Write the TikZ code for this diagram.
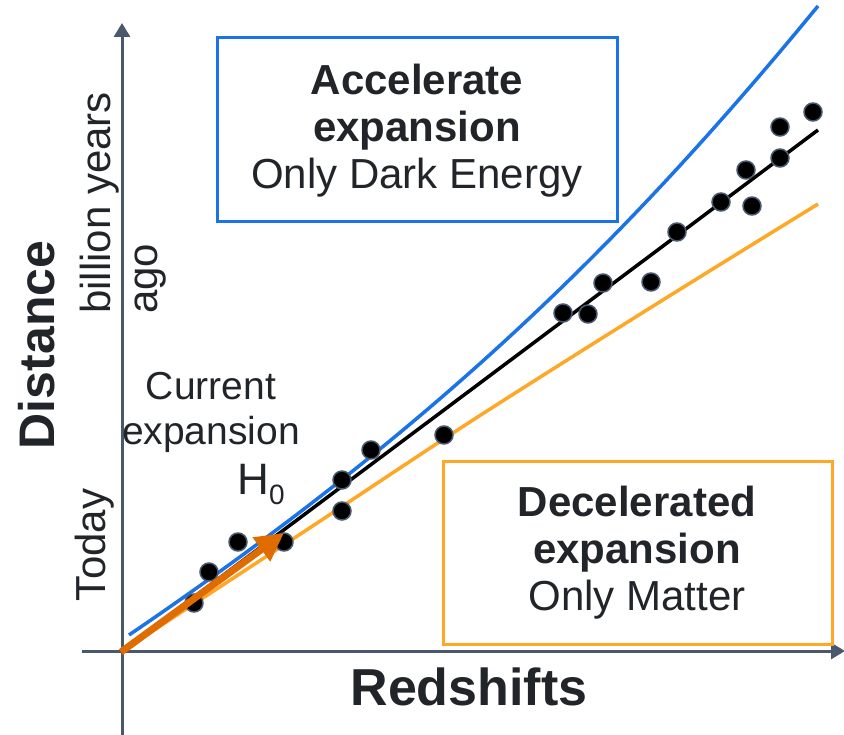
\documentclass[tikz,border=0pt]{standalone}
\usepackage{fontspec}
\setmainfont{Liberation Sans}
\usetikzlibrary{arrows.meta}
\definecolor{axiscol}{RGB}{74,88,110}
\definecolor{bluecol}{RGB}{26,115,232}
\definecolor{lorange}{RGB}{255,167,38}
\definecolor{dorange}{RGB}{224,108,0}
\definecolor{txtcol}{RGB}{33,37,41}
\tikzset{
  axisline/.style={draw=axiscol,line width=3pt,-{Triangle[length=14pt,width=16pt]}},
  datadot/.style={circle,fill=black,draw=axiscol,line width=1.5pt,minimum size=18pt,inner sep=0pt},
  infobox/.style={line width=3pt,fill=white},
  bigtxt/.style={text=txtcol,font=\fontsize{42}{47}\selectfont,align=center,inner sep=0pt},
}
\begin{document}
\begin{tikzpicture}[x=1pt,y=-1pt]
\useasboundingbox (0,0) rectangle (844,735);
% axes
\coordinate (ybot) at (122,735);
\coordinate (ytop) at (122,23);
\coordinate (xl) at (82,651);
\coordinate (xr) at (845,651);
\draw[axisline] (ybot) -- (ytop);
\draw[axisline] (xl) -- (xr);
% boxes
\draw[infobox,draw=bluecol] (217,38) rectangle (617,222);
\draw[infobox,draw=lorange] (443,461) rectangle (832,644);
\node[bigtxt] (acc) at (417,131) {\textbf{Accelerate}\\\textbf{expansion}\\Only Dark Energy};
\node[bigtxt] (dec) at (637,553) {\textbf{Decelerated}\\\textbf{expansion}\\Only Matter};
% curves
\coordinate (bls) at (129,635);
\coordinate (ble) at (818,6);
\draw[bluecol,line width=3.5pt] (bls) .. controls (432,429) and (620,247) .. (ble);
\draw[lorange,line width=3.5pt] plot[smooth,tension=0.5] coordinates {(122,651) (302,533) (473,420) (650,308) (818,204)};
\coordinate (bs) at (122,651);
\coordinate (be) at (818,130);
\draw[black,line width=3.5pt] (bs) -- (be);
% dots
\foreach \p [count=\i] in {(194,603),(209,572),(238,542),(284,542),(342,480),(342,511),(371,450),(444,435),(563,313),(588,314),(603,283),(651,282),(677,232),(721,202),(746,170),(752,206),(780,158),(780,127),(813,112)}
  \node[datadot] (d\i) at \p {};
% H0 arrow
\coordinate (hs) at (121,652);
\coordinate (he) at (284,533);
\draw[dorange,line width=7pt,-{Triangle[length=28pt,width=28pt]}] (hs) -- (he);
% labels
\node[text=txtcol,font=\fontsize{50}{50}\selectfont\bfseries,rotate=90,inner sep=0pt] (dist) at (37,345) {Distance};
\node[text=txtcol,font=\fontsize{42}{47}\selectfont,rotate=90,align=left,inner sep=0pt] (bya) at (123,203) {billion years\\ago};
\node[text=txtcol,font=\fontsize{42}{45}\selectfont,rotate=90,inner sep=0pt] (today) at (95,545) {Today};
\node[text=txtcol,font=\fontsize{52}{52}\selectfont\bfseries,inner sep=0pt] (red) at (469,687) {Redshifts};
\node[text=txtcol,font=\fontsize{39}{45}\selectfont,align=center,inner sep=0pt] (cur) at (211,412) {Current\\expansion};
\node[text=txtcol,font=\fontsize{44}{44}\selectfont,inner sep=0pt] (h0) at (261,485) {H\raisebox{-10pt}{\fontsize{28}{28}\selectfont 0}};
\end{tikzpicture}
\end{document}
